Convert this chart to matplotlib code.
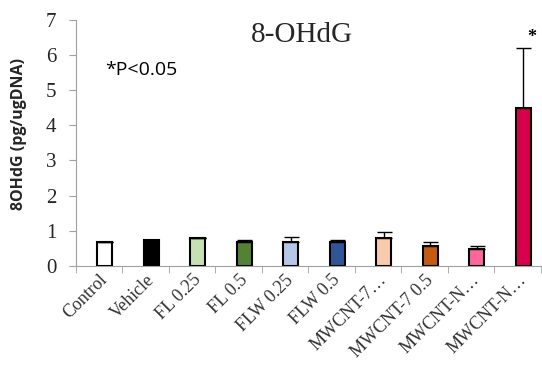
import matplotlib.pyplot as plt
import numpy as np

# 数据
categories = ["Control", "Vehicle", "FL 0.25", "FL 0.5", "FLW 0.25", "FLW 0.5",
              "MWCNT-7…", "MWCNT-7 0.5", "MWCNT-N…", "MWCNT-N…"]
values = [0.67, 0.75, 0.78, 0.68, 0.68, 0.68, 0.78, 0.58, 0.47, 4.5]
errors = [0.0, 0.0, 0.0, 0.07, 0.14, 0.07, 0.19, 0.10, 0.10, 1.70]
colors = ["#ffffff", "#000000", "#c6e0b4", "#548235", "#b4c7e7", "#2f5597",
          "#f8cbad", "#c55a11", "#ff6699", "#d6004c"]

fig = plt.figure(figsize=(5.42, 3.74), dpi=100)
ax = fig.add_axes([0.140, 0.289, 0.858, 0.658])

x = np.arange(len(categories))
offset = 0.12
ax.bar(x + offset, values, width=0.32, color=colors, edgecolor="black", linewidth=1.5,
       yerr=[np.zeros(len(errors)), errors], capsize=5.4,
       error_kw=dict(ecolor="black", elinewidth=1.0, capthick=1.0))

ax.set_xlim(-0.5, len(categories) - 0.5)
ax.set_ylim(0, 7)
ax.set_yticks(range(0, 8))
ax.set_xticks(x)
ax.set_xticklabels(categories, rotation=45, ha="right", rotation_mode="anchor",
                   family="Liberation Serif", fontsize=13, color="#333333")
ax.set_xticks(np.arange(-0.5, len(categories)), minor=True)
ax.tick_params(axis="x", which="major", length=0, pad=4)
ax.tick_params(axis="x", which="minor", length=5, color="#a0a0a0")
ax.tick_params(axis="y", length=5, color="#a0a0a0", labelsize=15, labelcolor="#262626", pad=9)
for lbl in ax.get_yticklabels():
    lbl.set_family("Liberation Serif")

for s in ["top", "right"]:
    ax.spines[s].set_visible(False)
ax.spines["left"].set_color("#a0a0a0")
ax.spines["bottom"].set_color("#a0a0a0")

ax.set_ylabel("8OHdG (pg/ugDNA)", family="Open Sans", fontweight="bold", fontsize=11.5,
              color="#262626")
ax.yaxis.set_label_coords(-0.105, 0.535)

fig.text(0.557, 0.8885, "8-OHdG", family="Liberation Serif", fontsize=21, ha="center",
         va="baseline", color="#262626")
fig.text(0.194, 0.813, "*P<0.05", family="Open Sans", fontsize=14, ha="left",
         va="center", color="black")
ax.text(x[-1] + offset + 0.19, values[-1] + errors[-1] + 0.17, "*",
        family="Liberation Serif", fontsize=13, fontweight="bold", ha="center", va="baseline")

fig.savefig("out.png", dpi=100)
